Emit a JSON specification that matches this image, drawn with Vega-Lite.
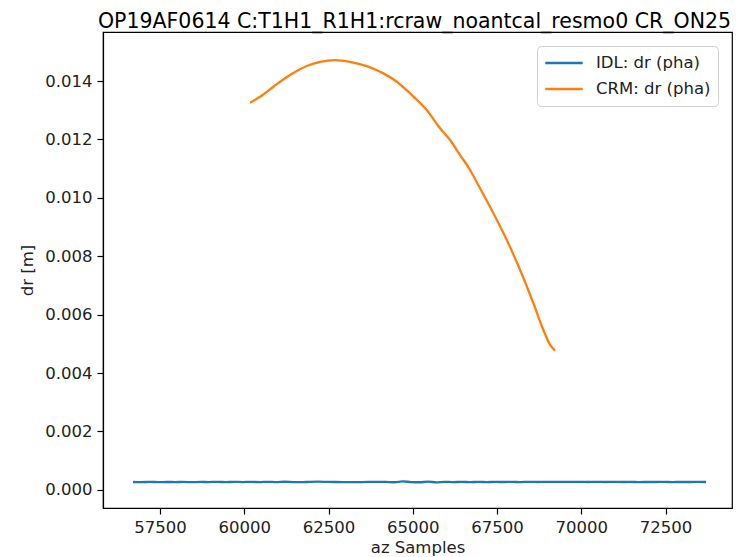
{
  "$schema": "https://vega.github.io/schema/vega-lite/v6.json",
  "width": 629,
  "height": 476,
  "autosize": {"type": "none"},
  "padding": {"left": 103, "top": 32, "right": 8, "bottom": 49},
  "background": "white",
  "title": {"text": "OP19AF0614 C:T1H1_R1H1:rcraw_noantcal_resmo0 CR_ON25", "font": "DejaVu Sans", "fontSize": 20.5, "fontWeight": "normal", "color": "black", "offset": 0, "anchor": "middle", "dx": -3},
  "config": {
    "font": "DejaVu Sans",
    "view": {"stroke": "black", "strokeWidth": 1.2},
    "axis": {"grid": false, "domainColor": "black", "domainWidth": 1.2, "tickColor": "black", "tickWidth": 1.2, "tickSize": 6, "labelFont": "DejaVu Sans", "labelFontSize": 16.5, "labelColor": "#222", "titleFont": "DejaVu Sans", "titleFontSize": 16.5, "titleFontWeight": "normal", "titleColor": "#222", "labelPadding": 5}
  },
  "data": {"values": [
    {"s": "CRM: dr (pha)", "x": 60171, "y": 0.013257},
    {"s": "CRM: dr (pha)", "x": 60468, "y": 0.013463},
    {"s": "CRM: dr (pha)", "x": 60862, "y": 0.013805},
    {"s": "CRM: dr (pha)", "x": 61358, "y": 0.014206},
    {"s": "CRM: dr (pha)", "x": 61854, "y": 0.014514},
    {"s": "CRM: dr (pha)", "x": 62248, "y": 0.014661},
    {"s": "CRM: dr (pha)", "x": 62693, "y": 0.014719},
    {"s": "CRM: dr (pha)", "x": 63138, "y": 0.014661},
    {"s": "CRM: dr (pha)", "x": 63634, "y": 0.014514},
    {"s": "CRM: dr (pha)", "x": 64127, "y": 0.014263},
    {"s": "CRM: dr (pha)", "x": 64524, "y": 0.013977},
    {"s": "CRM: dr (pha)", "x": 64919, "y": 0.013579},
    {"s": "CRM: dr (pha)", "x": 65414, "y": 0.013007},
    {"s": "CRM: dr (pha)", "x": 65809, "y": 0.012381},
    {"s": "CRM: dr (pha)", "x": 66106, "y": 0.011981},
    {"s": "CRM: dr (pha)", "x": 66402, "y": 0.011467},
    {"s": "CRM: dr (pha)", "x": 66699, "y": 0.010954},
    {"s": "CRM: dr (pha)", "x": 66996, "y": 0.010327},
    {"s": "CRM: dr (pha)", "x": 67391, "y": 0.009472},
    {"s": "CRM: dr (pha)", "x": 67788, "y": 0.008558},
    {"s": "CRM: dr (pha)", "x": 68183, "y": 0.007531},
    {"s": "CRM: dr (pha)", "x": 68578, "y": 0.006391},
    {"s": "CRM: dr (pha)", "x": 68874, "y": 0.005477},
    {"s": "CRM: dr (pha)", "x": 69073, "y": 0.004963},
    {"s": "CRM: dr (pha)", "x": 69221, "y": 0.004768},
    {"s": "IDL: dr (pha)", "x": 56700, "y": 0.000270},
    {"s": "IDL: dr (pha)", "x": 56950, "y": 0.000268},
    {"s": "IDL: dr (pha)", "x": 57200, "y": 0.000272},
    {"s": "IDL: dr (pha)", "x": 57450, "y": 0.000267},
    {"s": "IDL: dr (pha)", "x": 57700, "y": 0.000271},
    {"s": "IDL: dr (pha)", "x": 57950, "y": 0.000268},
    {"s": "IDL: dr (pha)", "x": 58200, "y": 0.000273},
    {"s": "IDL: dr (pha)", "x": 58450, "y": 0.000266},
    {"s": "IDL: dr (pha)", "x": 58700, "y": 0.000272},
    {"s": "IDL: dr (pha)", "x": 58950, "y": 0.000269},
    {"s": "IDL: dr (pha)", "x": 59200, "y": 0.000274},
    {"s": "IDL: dr (pha)", "x": 59450, "y": 0.000267},
    {"s": "IDL: dr (pha)", "x": 59700, "y": 0.000275},
    {"s": "IDL: dr (pha)", "x": 59950, "y": 0.000268},
    {"s": "IDL: dr (pha)", "x": 60200, "y": 0.000276},
    {"s": "IDL: dr (pha)", "x": 60450, "y": 0.000266},
    {"s": "IDL: dr (pha)", "x": 60700, "y": 0.000278},
    {"s": "IDL: dr (pha)", "x": 60950, "y": 0.000265},
    {"s": "IDL: dr (pha)", "x": 61200, "y": 0.000279},
    {"s": "IDL: dr (pha)", "x": 61450, "y": 0.000268},
    {"s": "IDL: dr (pha)", "x": 61700, "y": 0.000264},
    {"s": "IDL: dr (pha)", "x": 61950, "y": 0.000276},
    {"s": "IDL: dr (pha)", "x": 62200, "y": 0.000280},
    {"s": "IDL: dr (pha)", "x": 62450, "y": 0.000274},
    {"s": "IDL: dr (pha)", "x": 62700, "y": 0.000270},
    {"s": "IDL: dr (pha)", "x": 62950, "y": 0.000268},
    {"s": "IDL: dr (pha)", "x": 63200, "y": 0.000268},
    {"s": "IDL: dr (pha)", "x": 63450, "y": 0.000269},
    {"s": "IDL: dr (pha)", "x": 63700, "y": 0.000272},
    {"s": "IDL: dr (pha)", "x": 63950, "y": 0.000276},
    {"s": "IDL: dr (pha)", "x": 64200, "y": 0.000272},
    {"s": "IDL: dr (pha)", "x": 64450, "y": 0.000262},
    {"s": "IDL: dr (pha)", "x": 64700, "y": 0.000290},
    {"s": "IDL: dr (pha)", "x": 64950, "y": 0.000268},
    {"s": "IDL: dr (pha)", "x": 65200, "y": 0.000262},
    {"s": "IDL: dr (pha)", "x": 65450, "y": 0.000280},
    {"s": "IDL: dr (pha)", "x": 65700, "y": 0.000260},
    {"s": "IDL: dr (pha)", "x": 65950, "y": 0.000278},
    {"s": "IDL: dr (pha)", "x": 66200, "y": 0.000266},
    {"s": "IDL: dr (pha)", "x": 66450, "y": 0.000274},
    {"s": "IDL: dr (pha)", "x": 66700, "y": 0.000268},
    {"s": "IDL: dr (pha)", "x": 66950, "y": 0.000273},
    {"s": "IDL: dr (pha)", "x": 67200, "y": 0.000269},
    {"s": "IDL: dr (pha)", "x": 67450, "y": 0.000272},
    {"s": "IDL: dr (pha)", "x": 67700, "y": 0.000270},
    {"s": "IDL: dr (pha)", "x": 67950, "y": 0.000273},
    {"s": "IDL: dr (pha)", "x": 68200, "y": 0.000269},
    {"s": "IDL: dr (pha)", "x": 68450, "y": 0.000274},
    {"s": "IDL: dr (pha)", "x": 68700, "y": 0.000271},
    {"s": "IDL: dr (pha)", "x": 68950, "y": 0.000275},
    {"s": "IDL: dr (pha)", "x": 69200, "y": 0.000272},
    {"s": "IDL: dr (pha)", "x": 69450, "y": 0.000276},
    {"s": "IDL: dr (pha)", "x": 69700, "y": 0.000273},
    {"s": "IDL: dr (pha)", "x": 69950, "y": 0.000275},
    {"s": "IDL: dr (pha)", "x": 70200, "y": 0.000271},
    {"s": "IDL: dr (pha)", "x": 70450, "y": 0.000274},
    {"s": "IDL: dr (pha)", "x": 70700, "y": 0.000270},
    {"s": "IDL: dr (pha)", "x": 70950, "y": 0.000273},
    {"s": "IDL: dr (pha)", "x": 71200, "y": 0.000270},
    {"s": "IDL: dr (pha)", "x": 71450, "y": 0.000272},
    {"s": "IDL: dr (pha)", "x": 71700, "y": 0.000269},
    {"s": "IDL: dr (pha)", "x": 71950, "y": 0.000271},
    {"s": "IDL: dr (pha)", "x": 72200, "y": 0.000270},
    {"s": "IDL: dr (pha)", "x": 72450, "y": 0.000273},
    {"s": "IDL: dr (pha)", "x": 72700, "y": 0.000269},
    {"s": "IDL: dr (pha)", "x": 72950, "y": 0.000271},
    {"s": "IDL: dr (pha)", "x": 73200, "y": 0.000270},
    {"s": "IDL: dr (pha)", "x": 73450, "y": 0.000272},
    {"s": "IDL: dr (pha)", "x": 73700, "y": 0.000270}
  ]},
  "mark": {"type": "line", "strokeWidth": 2.3, "clip": true, "interpolate": "monotone"},
  "encoding": {
    "x": {"field": "x", "type": "quantitative", "scale": {"domain": [55809, 74470], "nice": false, "zero": false},
      "axis": {"title": "az Samples", "values": [57500, 60000, 62500, 65000, 67500, 70000, 72500], "format": "d", "titlePadding": 4}},
    "y": {"field": "y", "type": "quantitative", "scale": {"domain": [-0.00062, 0.01568], "nice": false, "zero": false},
      "axis": {"title": "dr [m]", "values": [0, 0.002, 0.004, 0.006, 0.008, 0.01, 0.012, 0.014], "format": ".3f", "titlePadding": 9}},
    "color": {"field": "s", "type": "nominal",
      "scale": {"domain": ["IDL: dr (pha)", "CRM: dr (pha)"], "range": ["#1f77b4", "#ff7f0e"]},
      "legend": {"title": null, "orient": "top-right", "offset": 14, "symbolType": "stroke", "symbolSize": 1400, "clipHeight": 20, "symbolStrokeWidth": 2.5, "labelOffset": 12, "labelFontSize": 16.5, "labelFont": "DejaVu Sans", "labelColor": "#222", "strokeColor": "#d0d0d0", "fillColor": "white", "padding": 7, "cornerRadius": 4, "rowPadding": 6}},
    "order": {"field": "x", "type": "quantitative"}
  }
}
